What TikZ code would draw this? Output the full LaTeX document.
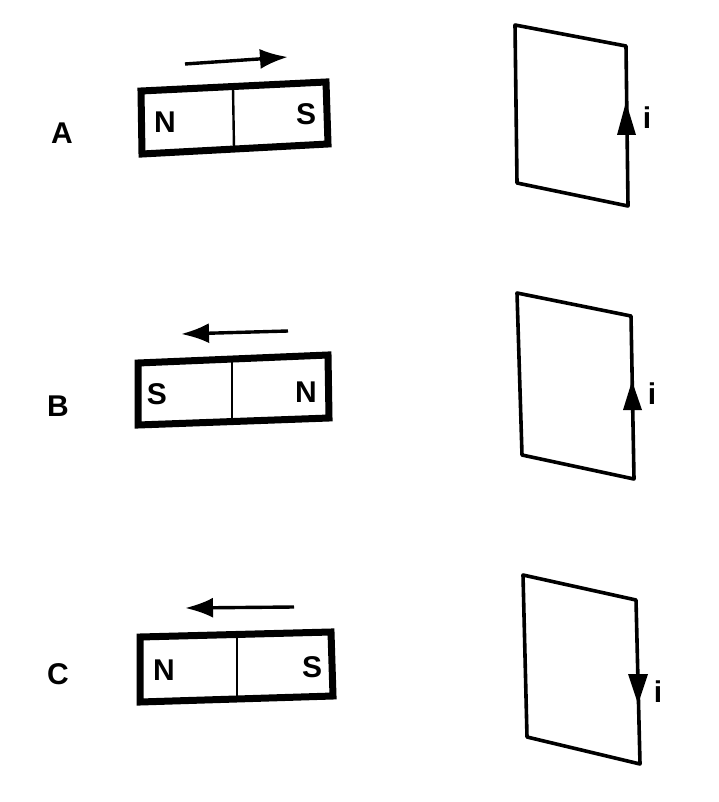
\documentclass[tikz,border=0pt]{standalone}
\usepackage{fontspec}
\setmainfont{Liberation Sans}
\usetikzlibrary{arrows.meta}
\tikzset{
  magnet/.style={draw=black,line width=7pt,line join=miter,fill=white},
  divider/.style={draw=black,line width=2.4pt},
  loopwire/.style={draw=black,line width=3.6pt,line join=round},
  motion/.style={draw=black,line width=3.4pt,-{Latex[length=28pt,width=20pt]}},
  currenthead/.style={fill=black,draw=none},
  pole/.style={font=\bfseries\fontsize{30}{30}\selectfont,inner sep=0pt},
  rowlabel/.style={font=\bfseries\fontsize{30}{30}\selectfont,inner sep=0pt},
  curlabel/.style={font=\bfseries\fontsize{30}{30}\selectfont,inner sep=0pt}
}
\newcommand{\magnetbar}[9]{%
  \draw[magnet] #1 -- #2 -- #3 -- #4 -- cycle;
  \draw[divider] #5 -- #6;
  \node[pole] at #7 {#8};
  \node[pole] at #9 {\magnetsecond};
}
\begin{document}
\begin{tikzpicture}[x=1pt,y=-1pt]
\useasboundingbox[fill=white] (0,0) rectangle (718,802);
% Row A
\def\magnetsecond{S}
\magnetbar{(141,91)}{(326,82)}{(328,144)}{(142,154)}{(233,88)}{(234,148)}{(165,122)}{N}{(306,114)}
\coordinate (a1) at (185,64); \coordinate (a2) at (288,57);
\draw[motion] (a1) -- (a2);
\node[rowlabel] (la) at (62,133) {A};
\draw[loopwire] (515,25) -- (626,46) -- (628,206) -- (517,183) -- cycle;
\fill[currenthead] (626,102) -- (636,135) -- (617,135) -- cycle;
\node[curlabel] (ia) at (647,118) {i};
% Row B
\def\magnetsecond{N}
\magnetbar{(138,363)}{(328,355)}{(329,418)}{(138,425)}{(232,360)}{(232,421)}{(157,394)}{S}{(306,392)}
\coordinate (b1) at (288,331); \coordinate (b2) at (181,334);
\draw[motion] (b1) -- (b2);
\node[rowlabel] (lb) at (58,406) {B};
\draw[loopwire] (517,293) -- (631,316) -- (634,479) -- (522,455) -- cycle;
\fill[currenthead] (632,381) -- (642,410) -- (623,410) -- cycle;
\node[curlabel] (ib) at (652,394) {i};
% Row C
\def\magnetsecond{S}
\magnetbar{(140,637)}{(331,632)}{(333,696)}{(140,702)}{(237,634)}{(237,698)}{(164,670)}{N}{(312,667)}
\coordinate (c1) at (294,607); \coordinate (c2) at (185,608);
\draw[motion] (c1) -- (c2);
\node[rowlabel] (lc) at (58,674) {C};
\draw[loopwire] (523,575) -- (636,600) -- (640,764) -- (527,737) -- cycle;
\fill[currenthead] (638,704) -- (628,674) -- (648,674) -- cycle;
\node[curlabel] (ic) at (658,692) {i};
\end{tikzpicture}
\end{document}
